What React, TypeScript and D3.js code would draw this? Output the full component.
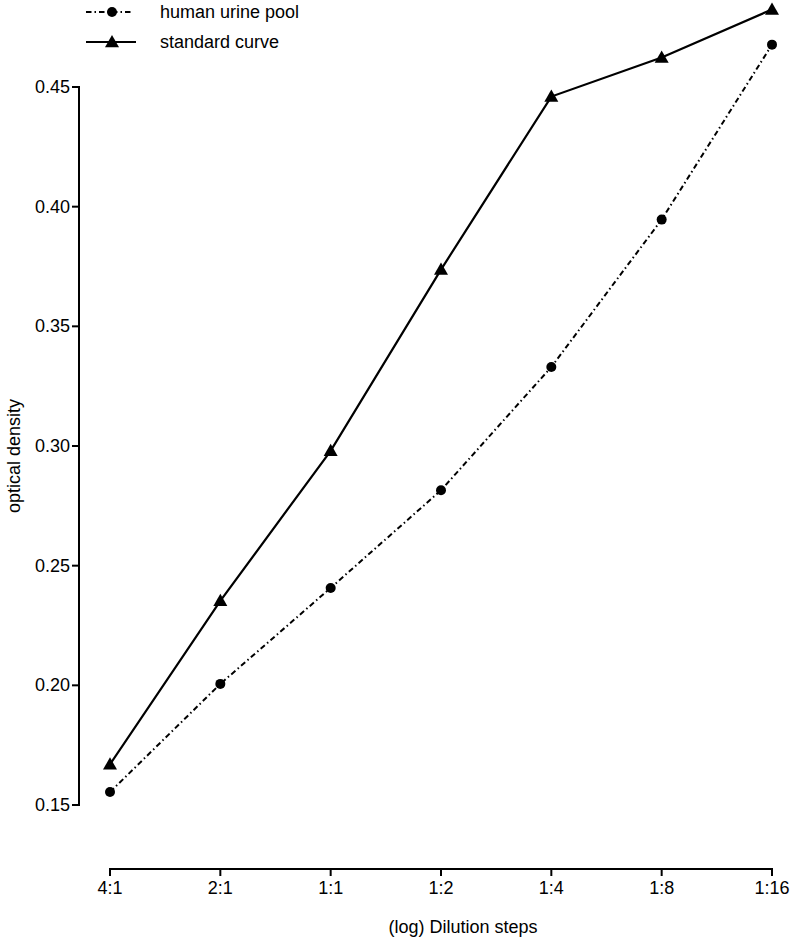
import React from "react";
import * as d3 from "d3";

const categories = ["4:1", "2:1", "1:1", "1:2", "1:4", "1:8", "1:16"];
const standardCurve = [0.167, 0.2353, 0.298, 0.3737, 0.446, 0.4623, 0.4824];
const urinePool = [0.1554, 0.2006, 0.2407, 0.2815, 0.333, 0.3946, 0.4677];
const yTicks = [0.15, 0.2, 0.25, 0.3, 0.35, 0.4, 0.45];
const seriesNames = ["human urine pool", "standard curve"];

const W = 793;
const H = 941;
const FONT = "'Liberation Sans', Arial, sans-serif";
const DASH = "5.5,3,1.5,3";

function Triangle({ x, y, s = 7 }: { x: number; y: number; s?: number }) {
  const p = `M${x},${y - s} L${x + s},${y + s * 0.75} L${x - s},${y + s * 0.75} Z`;
  return <path d={p} fill="#000" />;
}

export default function App() {
  const x = d3.scalePoint<string>().domain(categories).range([110, 772]);
  const y = d3.scaleLinear().domain([0.15, 0.45]).range([805, 87]);
  const line = d3
    .line<number>()
    .x((_, i) => x(categories[i]) as number)
    .y((d) => y(d));
  const axisX = 79;
  const axisY = 869;

  return (
    <svg
      width={W}
      height={H}
      style={{ position: "absolute", left: 0, top: 0, background: "#fff" }}
      fontFamily={FONT}
    >
      {/* Y axis */}
      <line x1={axisX} x2={axisX} y1={y(0.45) - 1} y2={y(0.15) + 1} stroke="#000" strokeWidth={2} />
      {yTicks.map((t) => (
        <g key={t}>
          <line x1={axisX - 7} x2={axisX} y1={y(t)} y2={y(t)} stroke="#000" strokeWidth={2} />
          <text x={axisX - 9} y={y(t)} textAnchor="end" dominantBaseline="central" fontSize={18}>
            {d3.format(".2f")(t)}
          </text>
        </g>
      ))}
      <text
        transform={`translate(14,${(y(0.15) + y(0.45)) / 2 + 10}) rotate(-90)`}
        textAnchor="middle"
        dominantBaseline="central"
        fontSize={18}
      >
        optical density
      </text>

      {/* X axis */}
      <line x1={x(categories[0])! - 1} x2={x(categories[6])! + 1} y1={axisY} y2={axisY} stroke="#000" strokeWidth={2} />
      {categories.map((c) => (
        <g key={c}>
          <line x1={x(c)} x2={x(c)} y1={axisY} y2={axisY + 7} stroke="#000" strokeWidth={2} />
          <text x={x(c)} y={axisY + 19} textAnchor="middle" dominantBaseline="central" fontSize={18}>
            {c}
          </text>
        </g>
      ))}
      <text x={463} y={927} textAnchor="middle" dominantBaseline="central" fontSize={18}>
        (log) Dilution steps
      </text>

      {/* Series */}
      <path d={line(urinePool) || ""} fill="none" stroke="#000" strokeWidth={2} strokeDasharray={DASH} />
      {urinePool.map((v, i) => (
        <circle key={i} cx={x(categories[i])} cy={y(v)} r={5} fill="#000" />
      ))}
      <path d={line(standardCurve) || ""} fill="none" stroke="#000" strokeWidth={2.2} />
      {standardCurve.map((v, i) => (
        <Triangle key={i} x={x(categories[i]) as number} y={y(v)} />
      ))}

      {/* Legend */}
      <line x1={86} x2={132} y1={12} y2={12} stroke="#000" strokeWidth={2} strokeDasharray={DASH} />
      <circle cx={112} cy={12} r={5} fill="#000" />
      <text x={160} y={12} dominantBaseline="central" fontSize={18}>
        {seriesNames[0]}
      </text>
      <line x1={86} x2={136} y1={42} y2={42} stroke="#000" strokeWidth={2.2} />
      <Triangle x={112} y={42} />
      <text x={160} y={42} dominantBaseline="central" fontSize={18}>
        {seriesNames[1]}
      </text>
    </svg>
  );
}
